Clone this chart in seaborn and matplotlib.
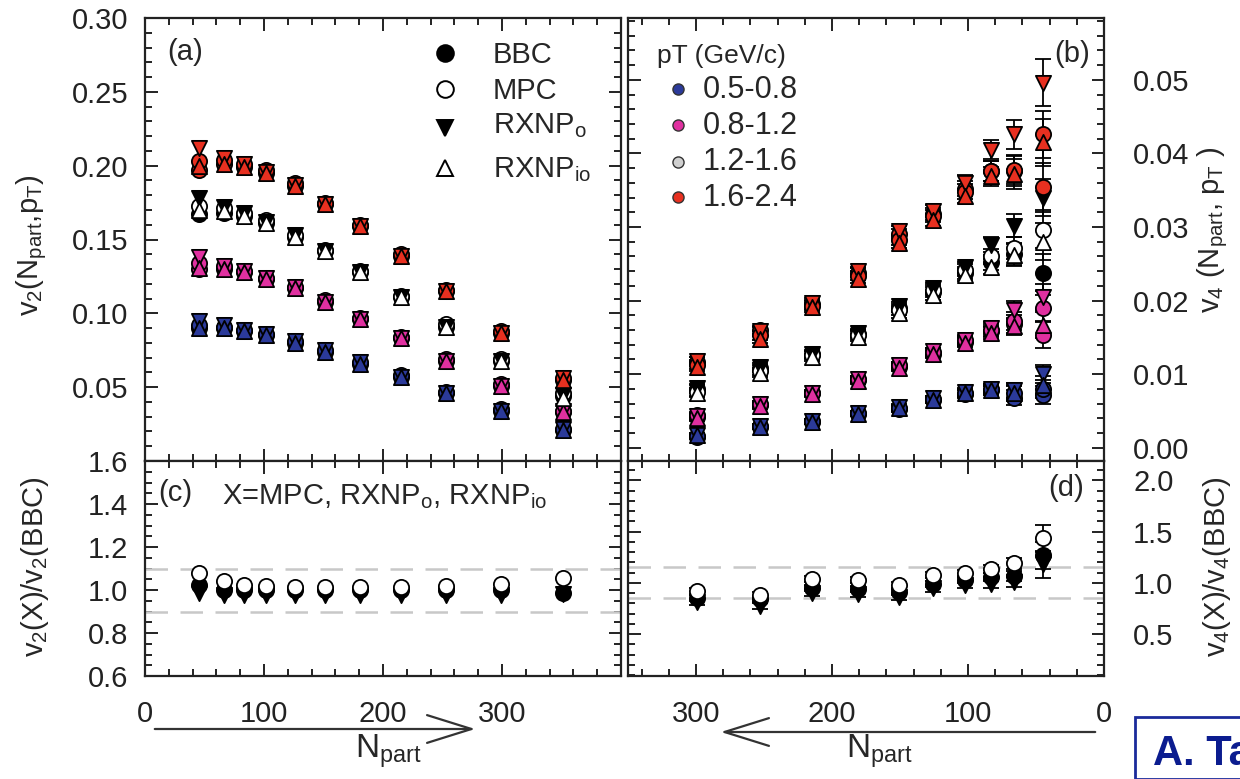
import numpy as np
import pandas as pd
import matplotlib
matplotlib.use("Agg")
import matplotlib.pyplot as plt
from matplotlib.ticker import MultipleLocator, FixedLocator, FormatStrFormatter
from matplotlib.patches import FancyArrowPatch, Rectangle
import seaborn as sns

# ---------------- data ----------------
npart_v2 = [45, 66, 83, 102, 126, 151, 181, 215, 253, 299, 351]
npart_v4 = [45, 66, 83, 102, 126, 151, 181, 215, 253, 299]

pt_bins = ["0.5-0.8", "0.8-1.2", "1.2-1.6", "1.6-2.4"]
methods = ["BBC", "MPC", "RXNPo", "RXNPio"]

# v2 (panel a)
v2_bbc_05 = [0.090, 0.090, 0.088, 0.085, 0.080, 0.074, 0.066, 0.057, 0.046, 0.034, 0.021]
v2_mpc_05 = [0.092, 0.091, 0.089, 0.086, 0.081, 0.075, 0.067, 0.058, 0.047, 0.035, 0.022]
v2_rxo_05 = [0.095, 0.092, 0.089, 0.086, 0.081, 0.075, 0.067, 0.057, 0.046, 0.034, 0.022]
v2_rxio_05 = [0.090, 0.090, 0.088, 0.085, 0.080, 0.074, 0.066, 0.057, 0.046, 0.034, 0.021]

v2_bbc_08 = [0.130, 0.130, 0.128, 0.123, 0.117, 0.108, 0.096, 0.083, 0.068, 0.051, 0.033]
v2_mpc_08 = [0.134, 0.132, 0.129, 0.124, 0.118, 0.109, 0.097, 0.084, 0.069, 0.052, 0.034]
v2_rxo_08 = [0.138, 0.132, 0.129, 0.124, 0.118, 0.108, 0.096, 0.083, 0.068, 0.051, 0.034]
v2_rxio_08 = [0.131, 0.130, 0.128, 0.123, 0.117, 0.108, 0.096, 0.083, 0.068, 0.051, 0.033]

v2_bbc_12 = [0.167, 0.168, 0.166, 0.161, 0.152, 0.142, 0.128, 0.111, 0.091, 0.068, 0.044]
v2_mpc_12 = [0.173, 0.171, 0.168, 0.163, 0.153, 0.143, 0.129, 0.112, 0.093, 0.069, 0.046]
v2_rxo_12 = [0.178, 0.172, 0.168, 0.162, 0.153, 0.142, 0.128, 0.111, 0.091, 0.068, 0.045]
v2_rxio_12 = [0.170, 0.169, 0.166, 0.161, 0.152, 0.142, 0.128, 0.111, 0.091, 0.068, 0.043]

v2_bbc_16 = [0.197, 0.201, 0.199, 0.195, 0.186, 0.174, 0.159, 0.139, 0.115, 0.087, 0.055]
v2_mpc_16 = [0.203, 0.204, 0.201, 0.197, 0.188, 0.175, 0.160, 0.140, 0.116, 0.088, 0.056]
v2_rxo_16 = [0.212, 0.205, 0.201, 0.196, 0.187, 0.174, 0.159, 0.139, 0.115, 0.087, 0.056]
v2_rxio_16 = [0.200, 0.201, 0.199, 0.195, 0.186, 0.174, 0.159, 0.139, 0.115, 0.087, 0.055]

# v4 (panel b)
v4_bbc_05 = [0.0072, 0.0068, 0.0078, 0.0073, 0.0065, 0.0053, 0.0046, 0.0035, 0.0028, 0.0015]
v4_mpc_05 = [0.0080, 0.0075, 0.0080, 0.0075, 0.0066, 0.0054, 0.0047, 0.0036, 0.0029, 0.0016]
v4_rxo_05 = [0.0100, 0.0078, 0.0080, 0.0076, 0.0067, 0.0055, 0.0047, 0.0036, 0.0029, 0.0017]
v4_rxio_05 = [0.0085, 0.0074, 0.0078, 0.0074, 0.0065, 0.0054, 0.0046, 0.0035, 0.0028, 0.0017]
v4_err_05 = [0.0012, 0.0010, 0.0006, 0.0005, 0.0004, 0.0004, 0.0003, 0.0003, 0.0003, 0.0003]

v4_bbc_08 = [0.0153, 0.0168, 0.0158, 0.0144, 0.0128, 0.0110, 0.0092, 0.0074, 0.0058, 0.0042]
v4_mpc_08 = [0.0190, 0.0172, 0.0160, 0.0146, 0.0130, 0.0112, 0.0093, 0.0075, 0.0060, 0.0044]
v4_rxo_08 = [0.0205, 0.0187, 0.0163, 0.0147, 0.0131, 0.0112, 0.0093, 0.0075, 0.0059, 0.0043]
v4_rxio_08 = [0.0167, 0.0165, 0.0156, 0.0143, 0.0127, 0.0109, 0.0091, 0.0073, 0.0057, 0.0041]
v4_err_08 = [0.0018, 0.0012, 0.0008, 0.0006, 0.0005, 0.0005, 0.0004, 0.0004, 0.0004, 0.0004]

v4_bbc_12 = [0.0238, 0.0263, 0.0252, 0.0238, 0.0212, 0.0190, 0.0155, 0.0127, 0.0108, 0.0080]
v4_mpc_12 = [0.0296, 0.0272, 0.0260, 0.0242, 0.0214, 0.0187, 0.0153, 0.0126, 0.0104, 0.0076]
v4_rxo_12 = [0.0340, 0.0302, 0.0276, 0.0245, 0.0217, 0.0192, 0.0156, 0.0128, 0.0110, 0.0081]
v4_rxio_12 = [0.0280, 0.0262, 0.0246, 0.0235, 0.0208, 0.0183, 0.0150, 0.0123, 0.0101, 0.0074]
v4_err_12 = [0.0025, 0.0015, 0.0010, 0.0008, 0.0007, 0.0006, 0.0005, 0.0005, 0.0005, 0.0005]

v4_bbc_16 = [0.0355, 0.0376, 0.0376, 0.0352, 0.0318, 0.0290, 0.0238, 0.0195, 0.0160, 0.0117]
v4_mpc_16 = [0.0426, 0.0378, 0.0376, 0.0348, 0.0315, 0.0282, 0.0234, 0.0193, 0.0153, 0.0113]
v4_rxo_16 = [0.0496, 0.0426, 0.0405, 0.0360, 0.0322, 0.0295, 0.0240, 0.0197, 0.0158, 0.0118]
v4_rxio_16 = [0.0415, 0.0372, 0.0369, 0.0342, 0.0310, 0.0278, 0.0230, 0.0191, 0.0148, 0.0110]
v4_err_16 = [0.0032, 0.0020, 0.0013, 0.0010, 0.0008, 0.0007, 0.0006, 0.0006, 0.0006, 0.0006]

# ratios (panel c): X / BBC for v2
r2_mpc = [1.08, 1.04, 1.025, 1.017, 1.014, 1.014, 1.014, 1.014, 1.02, 1.03, 1.055]
r2_rxo = [0.985, 0.975, 0.975, 0.975, 0.975, 0.975, 0.975, 0.975, 0.975, 0.978, 0.98]
r2_rxio = [1.025, 1.0, 1.0, 1.0, 1.0, 1.0, 1.0, 1.0, 1.0, 1.0, 0.985]

# ratios (panel d): X / BBC for v4
r4_mpc = [1.435, 1.19, 1.135, 1.10, 1.08, 0.98, 1.03, 1.04, 0.88, 0.92]
r4_rxo = [1.18, 1.005, 0.985, 0.975, 0.945, 0.86, 0.89, 0.90, 0.77, 0.81]
r4_rxio = [1.27, 1.065, 1.055, 1.03, 0.985, 0.91, 0.94, 0.95, 0.84, 0.855]
r4_err = [0.13, 0.05, 0.04, 0.03, 0.03, 0.03, 0.03, 0.03, 0.03, 0.03]

# ---------------- style ----------------
sns.set_theme(style="ticks")
plt.rcParams["font.family"] = ["Liberation Sans", "DejaVu Sans"]
plt.rcParams["mathtext.default"] = "regular"
plt.rcParams["axes.linewidth"] = 1.6

pt_colors = {"0.5-0.8": "#2b3a9a", "0.8-1.2": "#e030a0", "1.2-1.6": "#d0d0d0", "1.6-2.4": "#e83020"}
mk = {"BBC": "o", "MPC": "o", "RXNPo": "v", "RXNPio": "^"}

v2_data = {
    "0.5-0.8": [v2_bbc_05, v2_mpc_05, v2_rxo_05, v2_rxio_05],
    "0.8-1.2": [v2_bbc_08, v2_mpc_08, v2_rxo_08, v2_rxio_08],
    "1.2-1.6": [v2_bbc_12, v2_mpc_12, v2_rxo_12, v2_rxio_12],
    "1.6-2.4": [v2_bbc_16, v2_mpc_16, v2_rxo_16, v2_rxio_16],
}
v4_data = {
    "0.5-0.8": [v4_bbc_05, v4_mpc_05, v4_rxo_05, v4_rxio_05],
    "0.8-1.2": [v4_bbc_08, v4_mpc_08, v4_rxo_08, v4_rxio_08],
    "1.2-1.6": [v4_bbc_12, v4_mpc_12, v4_rxo_12, v4_rxio_12],
    "1.6-2.4": [v4_bbc_16, v4_mpc_16, v4_rxo_16, v4_rxio_16],
}
v4_errs = {"0.5-0.8": v4_err_05, "0.8-1.2": v4_err_08, "1.2-1.6": v4_err_12, "1.6-2.4": v4_err_16}


def face(pt, m):
    if pt == "1.2-1.6":
        return "black" if m in ("BBC", "RXNPo") else "white"
    return pt_colors[pt]


W, H = 1240, 779
fig = plt.figure(figsize=(W / 100, H / 100), dpi=100)


def pax(l, r, t, b):
    return fig.add_axes([l / W, 1 - b / H, (r - l) / W, (b - t) / H])


ax_a = pax(145, 621, 18, 461)
ax_c = pax(145, 621, 461, 676)
ax_b = pax(628, 1104, 18, 461)
ax_d = pax(628, 1104, 461, 676)

FS = 21
MS = 120

# panel a
for pt in pt_bins:
    for m, vals in zip(methods, v2_data[pt]):
        df = pd.DataFrame({"Npart": npart_v2, "v2": vals})
        sns.scatterplot(data=df, x="Npart", y="v2", ax=ax_a, marker=mk[m], s=MS,
                        color=face(pt, m), edgecolor="black", linewidth=1.3,
                        legend=False, zorder=3)

# panel b
for pt in pt_bins:
    for m, vals in zip(methods, v4_data[pt]):
        ax_b.errorbar(npart_v4, vals, yerr=v4_errs[pt], fmt="none", ecolor="black",
                      elinewidth=1.3, capsize=6, capthick=1.3, zorder=2)
        df = pd.DataFrame({"Npart": npart_v4, "v4": vals})
        sns.scatterplot(data=df, x="Npart", y="v4", ax=ax_b, marker=mk[m], s=MS,
                        color=face(pt, m), edgecolor="black", linewidth=1.3,
                        legend=False, zorder=3)

# panel c
for vals, mkr, fc in [(r2_rxio, "o", "black"), (r2_rxo, "v", "black"), (r2_mpc, "o", "white")]:
    df = pd.DataFrame({"Npart": npart_v2, "r": vals})
    sns.scatterplot(data=df, x="Npart", y="r", ax=ax_c, marker=mkr, s=MS, color=fc,
                    edgecolor="black", linewidth=1.3, legend=False, zorder=3)

# panel d
for vals, mkr, fc in [(r4_rxio, "o", "black"), (r4_rxo, "v", "black"), (r4_mpc, "o", "white")]:
    ax_d.errorbar(npart_v4, vals, yerr=r4_err, fmt="none", ecolor="black",
                  elinewidth=1.3, capsize=6, capthick=1.3, zorder=2)
    df = pd.DataFrame({"Npart": npart_v4, "r": vals})
    sns.scatterplot(data=df, x="Npart", y="r", ax=ax_d, marker=mkr, s=MS, color=fc,
                    edgecolor="black", linewidth=1.3, legend=False, zorder=3)

# dashed reference lines
for y in (0.9, 1.1):
    ax_c.axhline(y, color="#c8c8c8", lw=1.8, dashes=(9, 5), zorder=1)
for y in (0.85, 1.15):
    ax_d.axhline(y, color="#c8c8c8", lw=1.8, dashes=(9, 5), zorder=1)

# axes formatting
for ax in (ax_a, ax_b, ax_c, ax_d):
    ax.set_xlabel("")
    ax.set_ylabel("")
    ax.tick_params(which="both", direction="in", top=True, bottom=True, left=True, right=True,
                   width=1.4, colors="#222222", labelsize=FS, labelcolor="#222222")
    ax.tick_params(which="major", length=9)
    ax.tick_params(which="minor", length=5)
    for s in ax.spines.values():
        s.set_color("#222222")
        s.set_linewidth(1.6)

ax_a.set_xlim(0, 400)
ax_c.set_xlim(0, 400)
ax_b.set_xlim(350, 0)
ax_d.set_xlim(350, 0)
for ax in (ax_a, ax_b, ax_c, ax_d):
    ax.xaxis.set_major_locator(FixedLocator([0, 100, 200, 300, 400]))
    ax.xaxis.set_minor_locator(MultipleLocator(20))

ax_a.set_ylim(0, 0.30)
ax_a.yaxis.set_major_locator(FixedLocator([0.05, 0.10, 0.15, 0.20, 0.25, 0.30]))
ax_a.yaxis.set_minor_locator(MultipleLocator(0.01))
ax_a.yaxis.set_major_formatter(FormatStrFormatter("%.2f"))
ax_a.tick_params(labelbottom=False, labelleft=True, labelright=False)
ax_a.tick_params(axis="y", pad=12)

ax_c.set_ylim(0.6, 1.6)
ax_c.yaxis.set_major_locator(FixedLocator([0.6, 0.8, 1.0, 1.2, 1.4, 1.6]))
ax_c.yaxis.set_minor_locator(MultipleLocator(0.05))
ax_c.yaxis.set_major_formatter(FormatStrFormatter("%.1f"))
ax_c.set_xticks([0, 100, 200, 300])
ax_c.xaxis.set_minor_locator(MultipleLocator(20))
ax_c.tick_params(axis="y", pad=12)
ax_c.tick_params(axis="x", pad=17)

ax_b.set_ylim(-0.0018, 0.0584)
ax_b.yaxis.set_major_locator(FixedLocator([0.0, 0.01, 0.02, 0.03, 0.04, 0.05]))
ax_b.yaxis.set_minor_locator(MultipleLocator(0.002))
ax_b.yaxis.set_major_formatter(FormatStrFormatter("%.2f"))
ax_b.tick_params(labelbottom=False, labelleft=False, labelright=True)
ax_b.tick_params(axis="y", pad=21)

ax_d.set_ylim(0.09, 2.19)
ax_d.yaxis.set_major_locator(FixedLocator([0.5, 1.0, 1.5, 2.0]))
ax_d.yaxis.set_minor_locator(MultipleLocator(0.1))
ax_d.yaxis.set_major_formatter(FormatStrFormatter("%.1f"))
ax_d.set_xticks([0, 100, 200, 300])
ax_d.xaxis.set_minor_locator(MultipleLocator(20))
ax_d.tick_params(labelleft=False, labelright=True)
ax_d.tick_params(axis="y", pad=21)
ax_d.tick_params(axis="x", pad=17)

# panel tags and annotations
ax_a.text(0.046, 0.923, "(a)", transform=ax_a.transAxes, fontsize=FS, va="center", ha="left")
ax_b.text(0.97, 0.918, "(b)", transform=ax_b.transAxes, fontsize=FS, va="center", ha="right")
ax_c.text(0.027, 0.851, "(c)", transform=ax_c.transAxes, fontsize=FS, va="center", ha="left")
ax_c.text(0.162, 0.80, "X=MPC, RXNP$_o$, RXNP$_{io}$", transform=ax_c.transAxes,
          fontsize=FS, va="baseline", ha="left")
ax_d.text(0.958, 0.874, "(d)", transform=ax_d.transAxes, fontsize=FS, va="center", ha="right")

# legend (a): methods
leg_a = [("BBC", "o", "black", 53, 63, "BBC"),
         ("MPC", "o", "white", 89, 99, "MPC"),
         ("RXNPo", "v", "black", 128, 133, "RXNP$_o$"),
         ("RXNPio", "^", "white", 168, 177, "RXNP$_{io}$")]
for _, mkr, fc, ym, yb, lab in leg_a:
    ax_a.plot([(445 - 145) / 476], [1 - (ym - 18) / 443], marker=mkr, ms=12, mfc=fc,
              mec="black", mew=1.4, transform=ax_a.transAxes, clip_on=False, ls="none")
    ax_a.text((493 - 145) / 476, 1 - (yb - 18) / 443, lab, transform=ax_a.transAxes,
              fontsize=FS, va="baseline", ha="left")

# legend (b): pT bins
ax_b.text((657 - 628) / 476, 1 - (63 - 18) / 443, "pT (GeV/c)", transform=ax_b.transAxes,
          fontsize=19, va="baseline", ha="left")
for pt, ym, yb in zip(pt_bins, [89, 125, 162, 197], [98, 134, 170, 206]):
    ax_b.plot([(678 - 628) / 476], [1 - (ym - 18) / 443], marker="o", ms=8,
              mfc=pt_colors[pt], mec="#333333", mew=1.0, transform=ax_b.transAxes, ls="none")
    ax_b.text((703 - 628) / 476, 1 - (yb - 18) / 443, pt, transform=ax_b.transAxes,
              fontsize=FS + 1, va="baseline", ha="left")

# axis titles
fig.text(32 / W, 1 - 245 / H, "v$_2$(N$_{part}$,p$_T$)", rotation=90, fontsize=FS,
         ha="center", va="center")
fig.text(35 / W, 1 - 567 / H, "v$_2$(X)/v$_2$(BBC)", rotation=90, fontsize=FS,
         ha="center", va="center")
fig.text(1213 / W, 1 - 230 / H, "v$_4$ (N$_{part}$, p$_T$ )", rotation=90, fontsize=FS,
         ha="center", va="center")
fig.text(1217 / W, 1 - 567 / H, "v$_4$(X)/v$_4$(BBC)", rotation=90, fontsize=FS,
         ha="center", va="center")

fig.text(388 / W, 1 - 758 / H, "N$_{part}$", fontsize=FS + 3, ha="center", va="baseline")
fig.text(879 / W, 1 - 758 / H, "N$_{part}$", fontsize=FS + 3, ha="center", va="baseline")

# direction arrows
arr1 = FancyArrowPatch((152 / W, 1 - 729 / H), (478 / W, 1 - 729 / H), transform=fig.transFigure,
                       arrowstyle="->,head_length=1.6,head_width=0.5", mutation_scale=20,
                       lw=1.6, color="#333333")
arr2 = FancyArrowPatch((1098 / W, 1 - 732 / H), (718 / W, 1 - 732 / H), transform=fig.transFigure,
                       arrowstyle="->,head_length=1.6,head_width=0.5", mutation_scale=20,
                       lw=1.6, color="#333333")
fig.add_artist(arr1)
fig.add_artist(arr2)

# author box (cut at the figure edge, as in the reference)
fig.add_artist(Rectangle((1135 / W, 0), (W - 1135 + 20) / W, (779 - 717) / H,
                         transform=fig.transFigure, fill=False, edgecolor="#1a2a9a", lw=2))
fig.text(1153 / W, 1 - 765 / H, "A. Ta", fontsize=30, fontweight="bold", color="#0b1c8f",
         ha="left", va="baseline")

fig.savefig("out.png", dpi=100)
